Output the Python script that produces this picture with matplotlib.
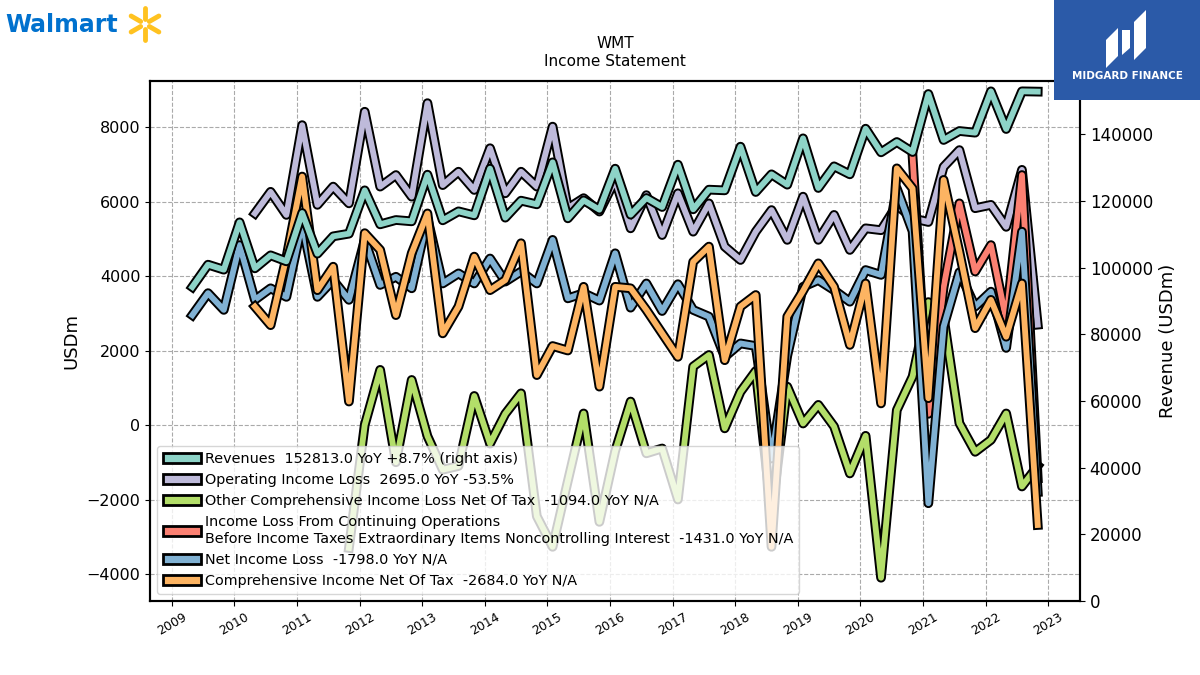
import numpy as np
import pandas as pd
import matplotlib
matplotlib.use('Agg')
import matplotlib.pyplot as plt
import matplotlib.dates as mdates
import matplotlib.patheffects as pe
from matplotlib.patches import Patch, Rectangle, Polygon
from matplotlib.lines import Line2D

nan = np.nan

# fiscal quarter ends (Walmart: Apr/Jul/Oct/Jan), Apr 2009 .. Oct 2022
dates = pd.date_range('2009-04-30', '2022-10-31', freq='QE-JAN')

revenues = [94200, 100900, 99400, 113600, 99800, 103700, 101900, 116400, 104200, 109400,
            110200, 123200, 113000, 114300, 113900, 127900, 114200, 116900, 115700, 129700,
            115000, 120100, 119000, 131600, 114800, 120200, 117400, 129700, 115900, 120900,
            118200, 130900, 117500, 123400, 123200, 136300, 122700, 128000, 124900, 138800,
            123900, 130400, 128000, 141700, 134600, 137700, 134700, 152100, 138300, 141000,
            140500, 152900, 141600, 152900, 152813]

operating_income = [nan, nan, nan, nan, 5680, 6260, 5640, 8050, 5910, 6400,
                    5950, 8410, 6400, 6710, 6130, 8640, 6440, 6800, 6310, 7430,
                    6220, 6800, 6400, 8010, 5820, 6090, 5730, 6580, 5280, 6170,
                    5100, 6220, 5190, 5950, 4790, 4430, 5190, 5770, 4970, 6130,
                    4970, 5640, 4700, 5280, 5230, 5900, 5550, 5450, 6930, 7380,
                    5820, 5910, 5320, 6850, 2695]

other_comprehensive = [nan, nan, nan, nan, nan, nan, nan, nan, nan, nan,
                       -3300, 0, 1480, -1000, 1210, -300, -1200, -1100, 780, -500,
                       300, 850, -2450, -3270, -1500, 310, -2600, -700, 630, -760,
                       -630, -2000, 1570, 1880, -90, 890, 1450, -2400, 1030, 40,
                       540, -40, -1300, -290, -4100, 400, 1300, 3300, 2900, 50,
                       -720, -400, 310, -1650, -1094]

pretax_income = [nan] * 46 + [7200, 300, 3700, 5950, 4120, 4830, 2820, 6710, -1431]

net_income = [2950, 3540, 3090, 4830, 3360, 3670, 3440, 5410, 3440, 3890,
              3360, 4970, 3760, 3980, 3670, 5550, 3800, 4070, 3800, 4470,
              3850, 4120, 3800, 4970, 3400, 3540, 3340, 4610, 3150, 3800,
              3060, 3780, 3090, 2910, 1830, 2190, 2120, -900, 1860, 3710,
              3890, 3620, 3310, 4160, 4030, 6350, 5200, -2100, 2640, 4100,
              3180, 3580, 2070, 5190, -1798]

comprehensive_income = [nan, nan, nan, nan, 3180, 2680, 4500, 6670, 3620, 4250,
                        630, 5150, 4700, 2950, 4610, 5680, 2460, 3180, 4520, 3620,
                        3890, 4880, 1340, 2120, 2000, 3710, 1030, 3710, 3670, 3090,
                        2460, 1830, 4380, 4790, 1740, 3180, 3490, -3270, 2910, 3600,
                        4340, 3710, 2150, 3800, 580, 6890, 6350, 720, 6580, 4650,
                        2600, 3360, 2370, 3800, -2684]

labels = [
    'Revenues  152813.0 YoY +8.7% (right axis)',
    'Operating Income Loss  2695.0 YoY -53.5%',
    'Other Comprehensive Income Loss Net Of Tax  -1094.0 YoY N/A',
    'Income Loss From Continuing Operations\nBefore Income Taxes Extraordinary Items Noncontrolling Interest  -1431.0 YoY N/A',
    'Net Income Loss  -1798.0 YoY N/A',
    'Comprehensive Income Net Of Tax  -2684.0 YoY N/A',
]
colors = ['#8dd3c7', '#bebada', '#b3de69', '#fb8072', '#80b1d3', '#fdb462']

fig = plt.figure(figsize=(12, 6.75), dpi=100)
ax = fig.add_axes([0.125, 0.1096, 0.775, 0.7704])
ax2 = ax.twinx()

stroke = [pe.Stroke(linewidth=7, foreground='black'), pe.Normal()]

left_series = [operating_income, other_comprehensive, pretax_income,
               net_income, comprehensive_income]
for vals, c in zip(left_series, colors[1:]):
    ax.plot(dates, vals, color=c, lw=4.2, path_effects=stroke, zorder=3)

ax2.plot(dates, revenues, color=colors[0], lw=4.2, path_effects=stroke, zorder=3)

ax.set_ylim(-4725, 9235)
ax2.set_ylim(0, 156000)
ax.set_yticks(range(-4000, 8001, 2000))
ax.grid(True, linestyle='--', color='#aaaaaa', linewidth=0.8)
ax.set_axisbelow(True)

ax.xaxis.set_major_locator(mdates.YearLocator())
ax.xaxis.set_major_formatter(mdates.DateFormatter('%Y'))
plt.setp(ax.get_xticklabels(), rotation=30, fontsize=9)
ax.tick_params(axis='y', labelsize=11.5)
ax2.tick_params(axis='y', labelsize=12)

ax.set_ylabel('USDm', fontsize=13)
ax2.set_ylabel('Revenue (USDm)', fontsize=13)
for a in (ax, ax2):
    for s in a.spines.values():
        s.set_linewidth(1.5)

ax.set_title('WMT\nIncome Statement', fontsize=11, pad=11)

handles = [Patch(facecolor=c, edgecolor='black', linewidth=2) for c in colors]
leg = ax.legend(handles, labels, loc='lower left', fontsize=10.4,
                handlelength=2.6, handleheight=0.7, handletextpad=0.3,
                labelspacing=0.5, framealpha=0.8)
leg.set_zorder(10)

# Walmart logo
fig.text(0.004, 0.963, 'Walmart', color='#0071ce', fontsize=17, fontweight='bold',
         va='center', ha='left')
cx, cy = 145, 24
for ang in [90, 30, -30, -90, -150, 150]:
    a = np.deg2rad(ang)
    x0, y0 = cx + 5 * np.cos(a), cy - 5 * np.sin(a)
    x1, y1 = cx + 16 * np.cos(a), cy - 16 * np.sin(a)
    fig.add_artist(Line2D([x0 / 1200, x1 / 1200], [1 - y0 / 675, 1 - y1 / 675],
                          color='#ffc220', lw=3.5, solid_capstyle='round'))

# Midgard Finance logo
fig.add_artist(Rectangle((1054 / 1200, 1 - 100 / 675), 146 / 1200, 100 / 675,
                         facecolor='#2b5aa8', edgecolor='none', transform=fig.transFigure))
def px(x, y):
    return (x / 1200, 1 - y / 675)
fig.add_artist(Polygon([px(1106, 68), px(1106, 40), px(1118, 28), px(1118, 56)],
                       closed=True, facecolor='white', transform=fig.transFigure))
fig.add_artist(Polygon([px(1122, 55), px(1122, 30), px(1130, 30), px(1130, 48)],
                       closed=True, facecolor='white', transform=fig.transFigure))
fig.add_artist(Polygon([px(1134, 60), px(1134, 22), px(1146, 10), px(1146, 48)],
                       closed=True, facecolor='white', transform=fig.transFigure))
fig.text(1127 / 1200, 1 - 76 / 675, 'MIDGARD FINANCE', color='white', fontsize=7.5,
         fontweight='bold', ha='center', va='center')

fig.savefig('out.png', dpi=100)
